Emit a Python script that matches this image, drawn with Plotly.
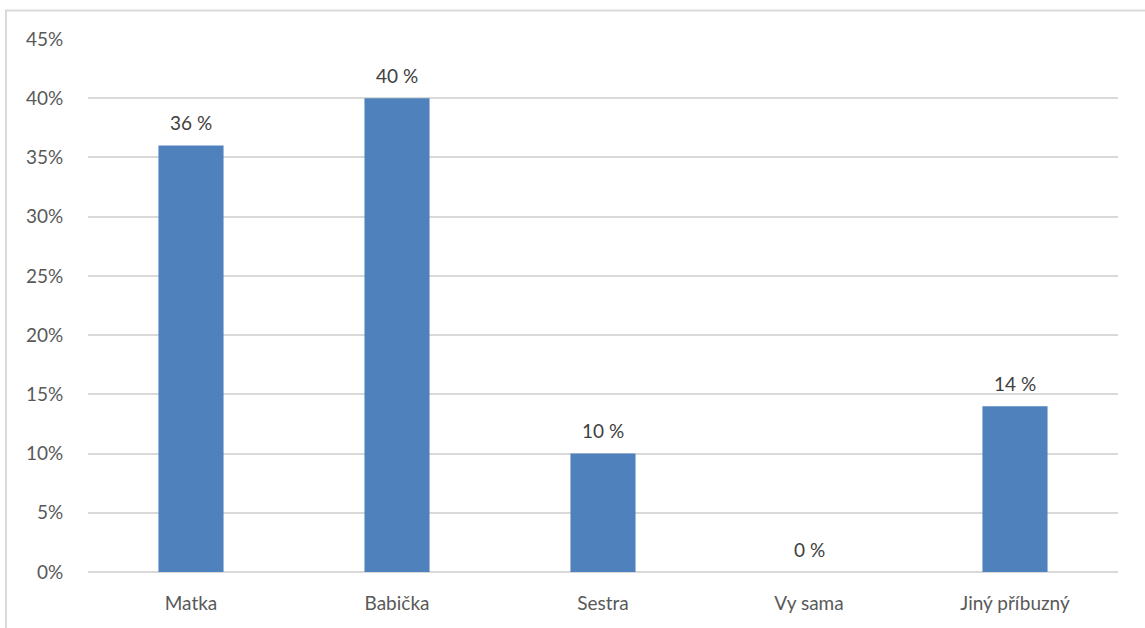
import plotly.graph_objects as go

categories = ["Matka", "Babička", "Sestra", "Vy sama", "Jiný příbuzný"]
values = [36, 40, 10, 0, 14]
tick_vals = [0, 5, 10, 15, 20, 25, 30, 35, 40, 45]
tick_text = [f"{v}%" for v in tick_vals]
labels = [f"{v} %" for v in values]

FONT = "Lato, Open Sans, sans-serif"

fig = go.Figure(go.Bar(
    x=categories, y=values, marker=dict(color="#4f81bd", line=dict(width=0)),
    hoverinfo="x+y",
))

annotations = [dict(x=c, y=v, xref="x", yref="y", text=t, showarrow=False,
                    yanchor="middle", yshift=23,
                    font=dict(family=FONT, size=19, color="#404040"))
               for c, v, t in zip(categories, values, labels)]

fig.update_layout(
    width=1145, height=628,
    margin=dict(l=88, r=27, t=39, b=56),
    paper_bgcolor="white", plot_bgcolor="white",
    bargap=0.684, showlegend=False,
    font=dict(family=FONT, size=19, color="#595959"),
    annotations=annotations,
    xaxis=dict(showgrid=False, showline=False, ticks="outside", ticklen=14,
               tickcolor="rgba(0,0,0,0)", tickfont=dict(size=19, color="#595959")),
    yaxis=dict(range=[0, 45], tickvals=tick_vals, ticktext=tick_text,
               showgrid=True, gridcolor="#d9d9d9", gridwidth=2,
               zeroline=True, zerolinecolor="#d9d9d9", zerolinewidth=2,
               ticks="outside", ticklen=20, tickcolor="rgba(0,0,0,0)",
               tickfont=dict(size=19, color="#595959")),
    shapes=[dict(type="rect", xref="paper", yref="paper",
                 x0=-0.0796, x1=1.06, y0=-0.2, y1=1.0535,
                 line=dict(color="#d9d9d9", width=2), fillcolor="rgba(0,0,0,0)",
                 layer="below")],
)

fig.write_html("out.html")
